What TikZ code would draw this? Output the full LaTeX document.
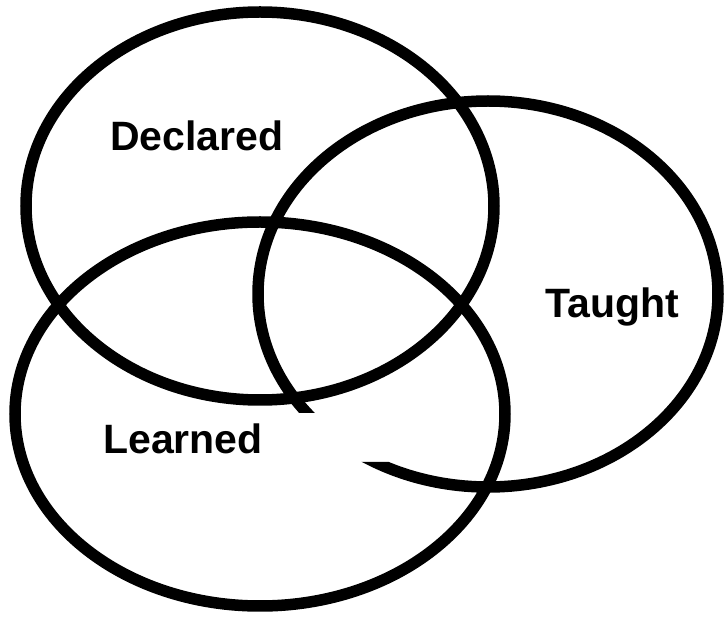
\documentclass[tikz,border=0pt]{standalone}
\usepackage{fontspec}
\setmainfont{Liberation Sans}
\usetikzlibrary{shapes.geometric}
\tikzset{
  ring/.style={line width=11.5pt, draw=black},
  lbl/.style={font=\fontsize{41}{49}\selectfont\bfseries, inner sep=0pt, anchor=base}
}
\begin{document}
\begin{tikzpicture}[x=1pt,y=-1pt]
\useasboundingbox (0,0) rectangle (724,620);
% Declared
\draw[ring] (260,206) ellipse [x radius=234, y radius=194];
% Learned
\draw[ring] (260,414) ellipse [x radius=245, y radius=192];
% Taught (open, with a gap cut out)
\coordinate (tc) at (488,294);
\begin{scope}[even odd rule]
  \clip (0,0) rectangle (724,620) (250,413) rectangle (390,462);
  \draw[ring] (tc) ellipse [x radius=230, y radius=193];
\end{scope}
\node[lbl] (declared) at (197,151) {Declared};
\node[lbl] (taught) at (612,318) {Taught};
\node[lbl] (learned) at (183,454) {Learned};
\end{tikzpicture}
\end{document}
